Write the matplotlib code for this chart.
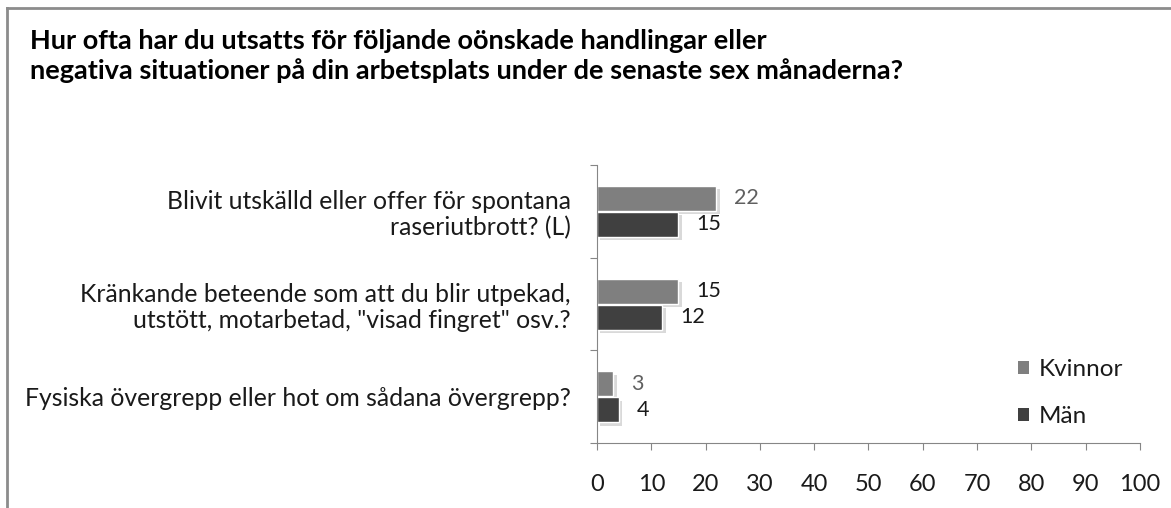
import matplotlib
matplotlib.use("Agg")
import matplotlib.pyplot as plt
import matplotlib.patheffects as pe
import numpy as np

plt.rcParams["font.family"] = ["Lato", "DejaVu Sans"]

title = ("Hur ofta har du utsatts för följande oönskade handlingar eller\n"
         "negativa situationer på din arbetsplats under de senaste sex månaderna?")
categories = [
    "Blivit utskälld eller offer för spontana\nraseriutbrott? (L)",
    "Kränkande beteende som att du blir utpekad,\nutstött, motarbetad, \"visad fingret\" osv.?",
    "Fysiska övergrepp eller hot om sådana övergrepp?",
]
kvinnor = [22, 15, 3]
man = [15, 12, 4]
series_names = ["Kvinnor", "Män"]
x_ticks = [0, 10, 20, 30, 40, 50, 60, 70, 80, 90, 100]

c_kv = "#7f7f7f"
c_man = "#404040"

fig = plt.figure(figsize=(11.71, 5.08), dpi=100)
# outer chart frame (only top and left edges are visible)
fig.add_artist(plt.Line2D([0.006, 1.0], [0.984, 0.984], color="#8c8c8c", lw=2))
fig.add_artist(plt.Line2D([0.006, 0.006], [0.0, 0.984], color="#8c8c8c", lw=2))

fig.text(0.026, 0.89, title, fontsize=19.5, fontweight="bold", color="#000000",
         va="center", ha="left", linespacing=1.27)

ax = fig.add_axes([0.5098, 0.128, 0.4637, 0.547])
y = np.arange(len(categories))
h = 0.27
shadow = [pe.SimplePatchShadow(offset=(2.5, -2.5), shadow_rgbFace="#a0a0a0", alpha=0.4), pe.Normal()]
b1 = ax.barh(y - h / 2 - 0.005, kvinnor, height=h, color=c_kv, edgecolor="white", lw=1,
             label=series_names[0], path_effects=shadow)
b2 = ax.barh(y + h / 2 + 0.005, man, height=h, color=c_man, edgecolor="white", lw=1,
             label=series_names[1], path_effects=shadow)

label_cols = [["#606060", "#1a1a1a", "#606060"], ["#1a1a1a", "#1a1a1a", "#1a1a1a"]]
for bars, vals, cols in [(b1, kvinnor, label_cols[0]), (b2, man, label_cols[1])]:
    for rect, v, col in zip(bars, vals, cols):
        ax.annotate(str(v), (rect.get_width(), rect.get_y() + rect.get_height() / 2),
                    xytext=(13, 0), textcoords="offset points", va="center", ha="left",
                    fontsize=15.5, color=col)

ax.set_xlim(0, 100)
ax.set_ylim(2.5, -0.5)
ax.set_xticks(x_ticks)
ax.set_xticklabels([str(t) for t in x_ticks], fontsize=17, color="#1a1a1a")
ax.set_yticks([-0.5, 0.5, 1.5, 2.5])
ax.set_yticklabels([])
ax.set_yticks(y, minor=True)
ax.set_yticklabels(categories, minor=True, fontsize=17.8, ha="right", linespacing=1.15,
                   color="#1a1a1a")
ax.tick_params(axis="y", which="minor", length=0, pad=19)
ax.tick_params(axis="y", which="major", length=5, color="#868686")
ax.tick_params(axis="x", length=5, color="#868686", pad=17)
for s in ["top", "right"]:
    ax.spines[s].set_visible(False)
for s in ["left", "bottom"]:
    ax.spines[s].set_color("#868686")

leg = ax.legend(loc="center left", bbox_to_anchor=(0.869, 0.226),
                bbox_transform=fig.transFigure, frameon=False, fontsize=17.5,
                handlelength=0.45, handleheight=0.45, handletextpad=0.4,
                labelspacing=1.05, borderpad=0, borderaxespad=0)
for t in leg.get_texts():
    t.set_color("#1a1a1a")
for hnd in leg.legend_handles:
    hnd.set_path_effects([])
    hnd.set_edgecolor("none")

fig.savefig("out.png", dpi=100)
